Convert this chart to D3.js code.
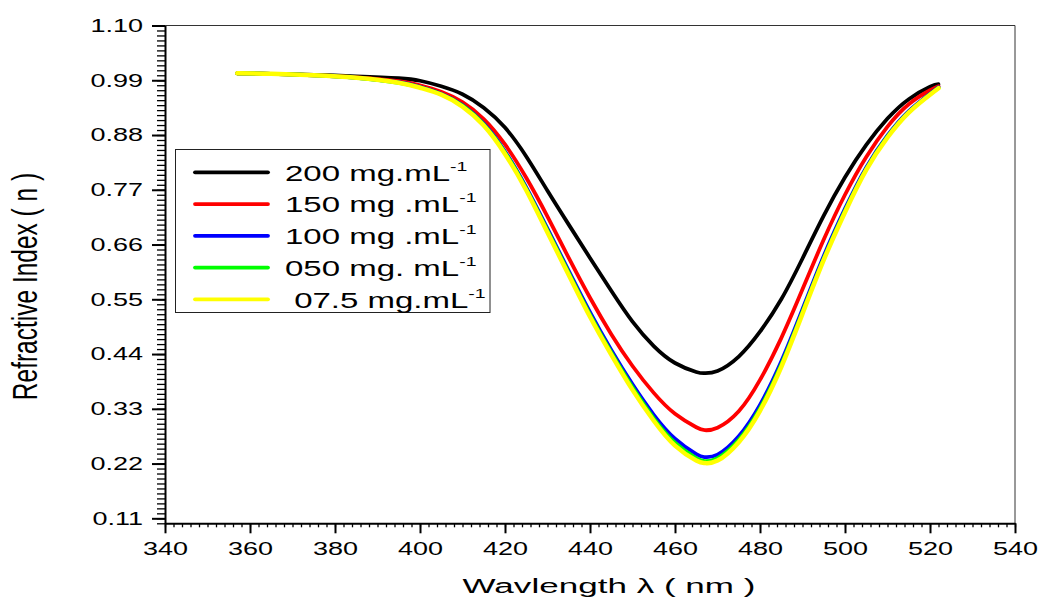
<!DOCTYPE html>
<html><head><meta charset="utf-8">
<script src="https://cdn.jsdelivr.net/npm/d3@7"></script>
<style>
body{margin:0;background:#fff;}
svg{display:block;font-family:"Liberation Sans",Arial,sans-serif;}
</style></head>
<body>
<svg id="chart" width="1039" height="601"></svg>
<script>
const wavelengths = [357,365,375,385,395,400,405,410,415,420,425,430,435,440,445,450,455,460,465,467,470,475,480,485,490,495,500,505,510,515,520,522];
const n200 = [1.004,1.003,1.001,0.998,0.994,0.989,0.978,0.962,0.935,0.895,0.837,0.768,0.700,0.633,0.567,0.505,0.456,0.422,0.404,0.4015,0.406,0.435,0.485,0.550,0.632,0.718,0.795,0.860,0.913,0.952,0.977,0.982];
const n150 = [1.004,1.003,1.000,0.996,0.988,0.980,0.967,0.946,0.912,0.861,0.794,0.716,0.633,0.553,0.480,0.416,0.362,0.320,0.293,0.287,0.292,0.325,0.388,0.472,0.570,0.670,0.760,0.836,0.897,0.942,0.970,0.978];
const n100 = [1.004,1.003,1.000,0.995,0.986,0.977,0.963,0.940,0.903,0.847,0.775,0.692,0.607,0.524,0.448,0.379,0.318,0.270,0.239,0.233,0.238,0.275,0.338,0.425,0.530,0.637,0.732,0.815,0.879,0.928,0.963,0.976];
const n050 = [1.004,1.003,1.000,0.995,0.985,0.976,0.962,0.939,0.901,0.845,0.772,0.688,0.603,0.519,0.443,0.373,0.311,0.262,0.231,0.225,0.231,0.268,0.331,0.419,0.525,0.632,0.728,0.812,0.877,0.926,0.962,0.975];
const n075 = [1.004,1.003,1.000,0.995,0.985,0.975,0.961,0.937,0.899,0.842,0.769,0.684,0.599,0.515,0.439,0.368,0.306,0.256,0.226,0.221,0.226,0.263,0.326,0.414,0.521,0.629,0.725,0.810,0.875,0.925,0.961,0.974];
const seriesLabels = ["200 mg.mL", "150 mg .mL", "100 mg .mL", "050 mg. mL", " 07.5 mg.mL"];
const seriesSup = "-1";
const seriesColors = ["#000000", "#ff0000", "#0000ff", "#00ff00", "#ffff00"];
const xTicks = [340,360,380,400,420,440,460,480,500,520,540];
const yTicks = [0.11,0.22,0.33,0.44,0.55,0.66,0.77,0.88,0.99,1.10];
const xTitle = "Wavlength \u03bb ( nm )";
const yTitle = "Refractive Index ( n )";

const allSeries = [n200, n150, n100, n050, n075];
const svg = d3.select("#chart");
const L = 165, R = 1015, T = 25.5, B = 523.3;
const x = d3.scaleLinear().domain([340, 540]).range([L, R]);
const y = d3.scaleLinear().domain([0.10, 1.10]).range([B, T]);
const SX = 1.5;

// frame top/right
svg.append("line").attr("x1", L).attr("x2", R).attr("y1", T).attr("y2", T).attr("stroke", "#333").attr("stroke-width", 1);
svg.append("line").attr("x1", R).attr("x2", R).attr("y1", T).attr("y2", B).attr("stroke", "#333").attr("stroke-width", 1);

// minor ticks
const xMinor = d3.range(340, 541, 2);
const yMinor = d3.range(10, 111).map(i => i / 100);
svg.append("g").attr("transform", `translate(0,${B})`)
  .call(d3.axisBottom(x).tickValues(xMinor).tickSize(4).tickFormat(""))
  .call(g => g.select(".domain").remove())
  .call(g => g.selectAll("line").attr("stroke-width", 1.3));
svg.append("g").attr("transform", `translate(${L},0)`)
  .call(d3.axisLeft(y).tickValues(yMinor).tickSize(8).tickFormat(""))
  .call(g => g.select(".domain").remove())
  .call(g => g.selectAll("line").attr("stroke-width", 1.3));

// major axes
const gx = svg.append("g").attr("transform", `translate(0,${B})`)
  .call(d3.axisBottom(x).tickValues(xTicks).tickSize(10).tickSizeOuter(0).tickFormat(d3.format("d")));
gx.select(".domain").attr("stroke-width", 2);
gx.selectAll("line").attr("stroke-width", 2);
gx.selectAll("text").attr("y", 19).attr("font-size", 18).attr("fill", "#000")
  .attr("font-family", "Liberation Sans, Arial, sans-serif")
  .attr("transform", `scale(${SX},1)`);

const gy = svg.append("g").attr("transform", `translate(${L},0)`)
  .call(d3.axisLeft(y).tickValues(yTicks).tickSize(13).tickSizeOuter(0).tickFormat(d3.format(".2f")));
gy.select(".domain").attr("stroke-width", 2);
gy.selectAll("line").attr("stroke-width", 2);
gy.selectAll("text").attr("x", -22 / SX).attr("font-size", 18).attr("fill", "#000")
  .attr("font-family", "Liberation Sans, Arial, sans-serif")
  .attr("transform", `scale(${SX},1)`);

// curves
const line = d3.line().x((d, i) => x(wavelengths[i])).y(d => y(d)).curve(d3.curveNatural);
allSeries.forEach((s, k) => {
  svg.append("path").datum(s).attr("d", line)
    .attr("fill", "none").attr("stroke", seriesColors[k])
    .attr("stroke-width", k === 4 ? 4.5 : 3.8)
    .attr("stroke-linecap", "round").attr("stroke-linejoin", "round");
});

// legend
const lg = svg.append("g");
lg.append("rect").attr("x", 175.5).attr("y", 149.5).attr("width", 314.5).attr("height", 163)
  .attr("fill", "#fff").attr("stroke", "#222").attr("stroke-width", 1);
seriesLabels.forEach((lab, k) => {
  const ly = 172.3 + k * 31.75;
  lg.append("line").attr("x1", 195).attr("x2", 268).attr("y1", ly).attr("y2", ly)
    .attr("stroke", seriesColors[k]).attr("stroke-width", 3.8).attr("stroke-linecap", "round");
  const t = lg.append("text").attr("transform", `translate(285,${ly + 8.4}) scale(${SX},1)`)
    .attr("font-size", 22).attr("fill", "#000").style("white-space", "pre");
  t.append("tspan").text(lab);
  t.append("tspan").attr("font-size", 13).attr("dy", -10).text(seriesSup);
});

// titles
svg.append("text").attr("transform", `translate(609,593) scale(1.67,1)`)
  .attr("text-anchor", "middle").attr("font-size", 21).attr("fill", "#000").text(xTitle);
svg.append("text").attr("transform", `translate(37,286.5) scale(1.43,1) rotate(-90)`)
  .attr("text-anchor", "middle").attr("font-size", 24.5).attr("fill", "#000").text(yTitle);
</script>
</body></html>
